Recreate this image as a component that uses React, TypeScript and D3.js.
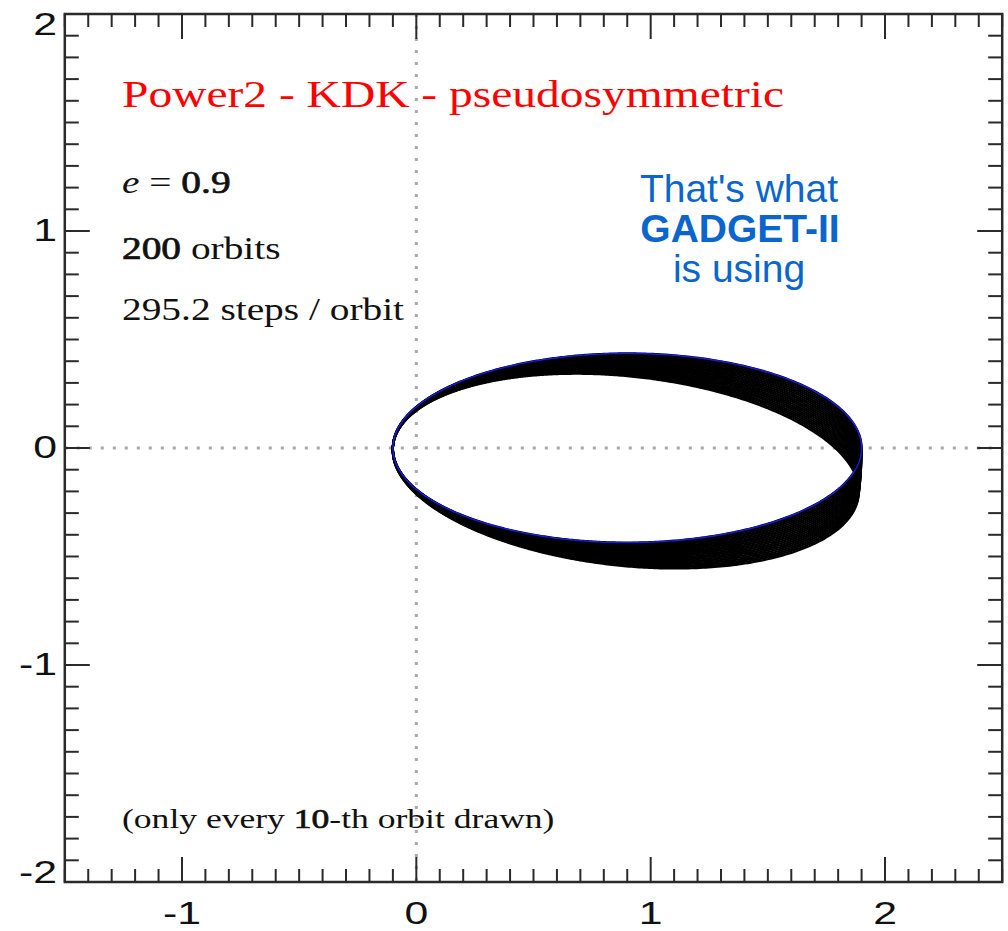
import React from "react";
import * as d3 from "d3";

// Kepler orbit parameters
const ECCENTRICITY = 0.9;
const SEMI_MAJOR = 1.0;

// Orbits kept for the plot (every 10th) and the periapsis drift of each (degrees)
const ORBIT_NUMBERS = [0, 10, 20, 30, 40, 50, 60, 70, 80, 90, 100, 110, 120, 130, 140, 150, 160, 170, 180, 190, 200];
const PERIAPSIS_SHIFT_DEG = [
  0, -0.34, -0.68, -1.02, -1.36, -1.7, -2.04, -2.38, -2.72, -3.06, -3.4,
  -3.74, -4.08, -4.42, -4.76, -5.1, -5.44, -5.78, -6.12, -6.46, -6.8,
];

// Axes
const X_DOMAIN = [-1.5, 2.5];
const Y_DOMAIN = [-2, 2];
const X_TICKS = [-1, 0, 1, 2];
const X_TICK_LABELS = ["-1", "0", "1", "2"];
const Y_TICKS = [-2, -1, 0, 1, 2];
const Y_TICK_LABELS = ["-2", "-1", "0", "1", "2"];

// Annotations
const TITLE = "Power2 - KDK - pseudosymmetric";
const N_ORBITS = "200";
const STEPS_LINE = "295.2 steps / orbit";
const NOTE_PARTS = ["(only every ", "10", "-th orbit drawn)"];
const CALLOUT = ["That's what", "GADGET-II", "is using"];

const W = 1008;
const H = 931;

const x = d3.scaleLinear().domain(X_DOMAIN).range([64.8, 1002.2]);
const y = d3.scaleLinear().domain(Y_DOMAIN).range([882, 14]);

function orbitPoints(shiftDeg: number): [number, number][] {
  const omega = Math.PI + (shiftDeg * Math.PI) / 180;
  const p = SEMI_MAJOR * (1 - ECCENTRICITY * ECCENTRICITY);
  const n = 1440;
  return d3.range(n + 1).map((i) => {
    const nu = (i / n) * 2 * Math.PI;
    const r = p / (1 + ECCENTRICITY * Math.cos(nu));
    return [r * Math.cos(omega + nu), r * Math.sin(omega + nu)] as [number, number];
  });
}

const line = d3
  .line<[number, number]>()
  .x((d) => x(d[0]))
  .y((d) => y(d[1]));

export default function App() {
  const [x0, x1] = x.range();
  const [yB, yT] = y.range();
  const minorX = x.ticks(40);
  const minorY = y.ticks(40);
  const MAJ = 25;
  const MIN = 13;
  const axisColor = "#2a2a2a";
  const sans = "'Liberation Sans', Arial, Helvetica, sans-serif";
  const serif = "'Liberation Serif', 'Times New Roman', serif";
  // slightly heavier digits, as in the original figure
  const heavy = { stroke: "#111", strokeWidth: 0.7 };

  return (
    <svg
      width={W}
      height={H}
      style={{ position: "absolute", left: 0, top: 0, background: "#fff" }}
    >
      <rect x={0} y={0} width={W} height={H} fill="#fff" />

      {/* zero lines */}
      <line x1={x(0)} x2={x(0)} y1={yT} y2={yB} stroke="#aaaaaa" strokeWidth={3} strokeDasharray="3 9" />
      <line x1={x0} x2={x1} y1={y(0)} y2={y(0)} stroke="#aaaaaa" strokeWidth={3} strokeDasharray="3 9" />

      {/* precessing orbits */}
      <g fill="none" stroke="#000" strokeWidth={2.2}>
        {ORBIT_NUMBERS.map((n, i) => (
          <path key={n} d={line(orbitPoints(PERIAPSIS_SHIFT_DEG[i])) || ""} />
        ))}
      </g>
      {/* exact orbit */}
      <path d={line(orbitPoints(0)) || ""} fill="none" stroke="#1a1ae6" strokeWidth={1.4} />

      {/* ticks */}
      <g stroke={axisColor} strokeWidth={2}>
        {minorX.map((v) => {
          const major = X_TICKS.some((t) => Math.abs(t - v) < 1e-6);
          const len = major ? MAJ : MIN;
          const px = x(v);
          return (
            <g key={"tx" + v}>
              <line x1={px} x2={px} y1={yB} y2={yB - len} />
              <line x1={px} x2={px} y1={yT} y2={yT + len} />
            </g>
          );
        })}
        {minorY.map((v) => {
          const major = Y_TICKS.some((t) => Math.abs(t - v) < 1e-6);
          const len = major ? MAJ : MIN + 1;
          const py = y(v);
          return (
            <g key={"ty" + v}>
              <line x1={x0} x2={x0 + len} y1={py} y2={py} />
              <line x1={x1} x2={x1 - len} y1={py} y2={py} />
            </g>
          );
        })}
      </g>

      {/* frame */}
      <rect x={x0} y={yT} width={x1 - x0} height={yB - yT} fill="none" stroke={axisColor} strokeWidth={2.5} />

      {/* tick labels */}
      <g fontFamily={sans} fontSize={31} fill="#111">
        {X_TICKS.map((v, i) => (
          <text key={"xl" + v} transform={`translate(${x(v)},924) scale(1.38,1)`} textAnchor="middle">
            {X_TICK_LABELS[i]}
          </text>
        ))}
        {Y_TICKS.map((v, i) => {
          const base = Math.min(883, Math.max(35, y(v) + 10));
          return (
            <text key={"yl" + v} transform={`translate(57,${base}) scale(1.38,1)`} textAnchor="end">
              {Y_TICK_LABELS[i]}
            </text>
          );
        })}
      </g>

      {/* title */}
      <text
        x={122}
        y={107}
        fontFamily={serif}
        fontSize={37}
        fill="#ff0000"
        textLength={662}
        lengthAdjust="spacingAndGlyphs"
      >
        {TITLE}
      </text>

      {/* run parameters */}
      <g fontFamily={serif} fontSize={31} fill="#111">
        <text transform="translate(122,193) scale(1.27,1)">
          <tspan fontStyle="italic">e</tspan>
          <tspan> = </tspan>
          <tspan {...heavy}>{String(ECCENTRICITY)}</tspan>
        </text>
        <text transform="translate(122,259) scale(1.27,1)">
          <tspan {...heavy}>{N_ORBITS}</tspan>
          <tspan> orbits</tspan>
        </text>
        <text transform="translate(122,320) scale(1.27,1)">{STEPS_LINE}</text>
        <text transform="translate(122,828) scale(1.27,1)" fontSize={28}>
          <tspan>{NOTE_PARTS[0]}</tspan>
          <tspan {...heavy}>{NOTE_PARTS[1]}</tspan>
          <tspan>{NOTE_PARTS[2]}</tspan>
        </text>
      </g>

      {/* callout */}
      <g fontFamily={sans} fontSize={39} fill="#0a66cc" textAnchor="middle">
        <text x={739} y={202}>{CALLOUT[0]}</text>
        <text x={740} y={242} fontWeight="bold">{CALLOUT[1]}</text>
        <text x={739} y={282}>{CALLOUT[2]}</text>
      </g>
    </svg>
  );
}
